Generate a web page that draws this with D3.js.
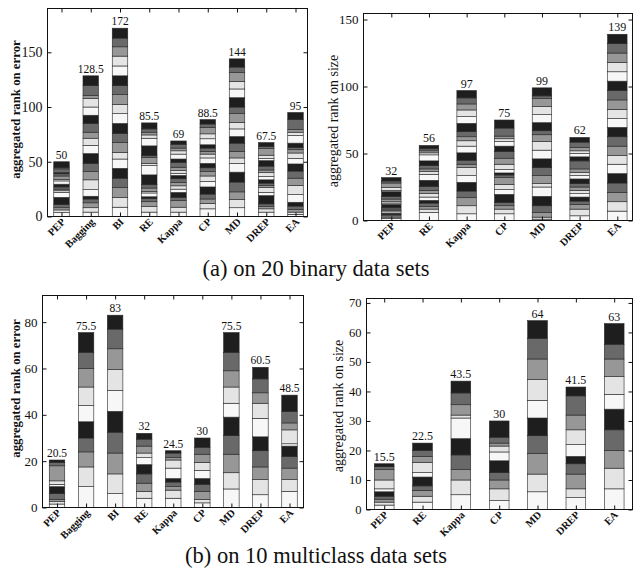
<!DOCTYPE html>
<html><head><meta charset="utf-8">
<script src="https://cdn.jsdelivr.net/npm/d3@7/dist/d3.min.js"></script>
<style>body{margin:0;background:#fff}svg{display:block}</style>
</head><body>
<svg id="chart" width="633" height="571"></svg>
<script>
// ---------- data ----------
const methodsError = ["PEP","Bagging","BI","RE","Kappa","CP","MD","DREP","EA"];
const methodsSize  = ["PEP","RE","Kappa","CP","MD","DREP","EA"];

// per-data-set ranks, stacked bottom->top (20 binary data sets)
const binaryErrorRanks = [
  [3.5,2.5,2,3,6.5, 4.5,1.5,1.5,2,2.5, 3,1.5,3,2,1.5, 1,1,1,1,5.5],          // PEP 50
  [4,4,4.5,3.5,2.5, 6,9,7.5,7.5,9, 7.5,6.5,5.5,8,7.5, 7.5,8,2.5,9,9],         // Bagging 128.5
  [8.5,9,9,8.5,9, 8.5,6,9,8.5,9, 9,8.5,9,8,9, 9,9,8.5,8,9],                   // BI 172
  [4,5,4.5,3,1.5, 3.5,1.5,3,3,9, 8.5,2,5.5,1.5,9, 7,3,2.5,3,5.5],             // RE 85.5
  [4,4.5,6,3,4.5, 3,3,3,3.5,3, 2,2.5,3,4.5,3, 4.5,3,2.5,3.5,3],               // Kappa 69
  [7,5,4,4.5,6.5, 5,5,4,3.5,4, 5,3.5,2.5,3,3, 5.5,4.5,6,3,4],                 // CP 88.5
  [8,7.5,7,9,9, 8,5,6,7.5,6, 7,6,8,6,8.5, 8,7,8,5,7.5],                       // MD 144
  [4,3,2,2.5,7.5, 3,4.5,2,2,3, 3,3.5,2.5,3.5,5, 2,3,6,2,3.5],                 // DREP 67.5
  [2,2,2.5,3,3.5, 7,8.5,6.5,6.5,6.5, 5,5,3,2,4, 7,3,2.5,9,6.5]                // EA 95
];
const binarySizeRanks = [
  [1.5,1,1,1,1, 1,1,1,1,2.5, 1,1,2,2,3.5, 1,2,3.5,1.5,2.5],                   // PEP 32
  [6,2.5,2,2.5,2, 2.5,2.5,2.5,3,4.5, 4.5,2,2,2.5,3.5, 4.5,1.5,1.5,1.5,2.5],    // RE 56
  [5,6,6,5,6.5, 5,6,2.5,3,5.5, 5,4,3,4,6, 5,5,4.5,4.5,5.5],                   // Kappa 97
  [5,3.5,2.5,2.5,6, 3.5,4,5,2,1.5, 2.5,4,4.5,5,4, 3.5,2,2,6,6],               // CP 75
  [1,1.5,3.5,5,7, 7,2.5,6,6,6.5, 6.5,6.5,5,3,6, 6,6,6,2,6],                   // MD 99
  [3.5,5,3.5,2.5,3, 2.5,2.5,2.5,2.5,3.5, 2.5,2.5,2.5,6,3, 2.5,2,2.5,4,3.5],   // DREP 62
  [7,7,7,7,7, 7,6.5,7,7,7, 6.5,7,7,7,7, 7,7,7,7,7]                            // EA 139
];
// 10 multiclass data sets
const multiErrorRanks = [
  [1.5,1,1,2.5,3, 1,1.5,6.5,1.5,1],       // PEP 20.5
  [9,8.5,6.5,6,7, 7,8,8,7,8.5],           // Bagging 75.5
  [6,8.5,9,9,9, 9,9,9,8.5,6],             // BI 83
  [4,3,3.5,4,4, 3,2,3,3,2.5],             // RE 32
  [4,3.5,1.5,2,1.5, 4.5,3.5,1,2,1],       // Kappa 24.5
  [2,1.5,3.5,3,2.5, 3.5,3.5,3.5,3,4],     // CP 30
  [8,7,8,8,8, 6,7,7,8,8.5],               // MD 75.5
  [5.5,6.5,5.5,7,6, 8,6.5,4.5,6,5],       // DREP 60.5
  [7,5,5,5,4.5, 1,6,3,5,7]                // EA 48.5
];
const multiSizeRanks = [
  [1.5,1,1,1,1.5, 1,3,3.5,1,1],           // PEP 15.5
  [2.5,2,2,1.5,3, 1.5,3.5,2,2,2.5],       // RE 22.5
  [5,5,3.5,5,5.5, 7,1,3.5,4,4],           // Kappa 43.5
  [3,4,3,2.5,4, 3,2,1,2,5.5],             // CP 30
  [6,6,7,6,6, 6,7,7,7,6],                 // MD 64
  [4,3,5,3.5,2.5, 4,5,5,6.5,3],           // DREP 41.5
  [7,7,6,7,7, 5,6,6,5,7]                  // EA 63
];
const ticksBinaryError = [0,50,100,150];
const ticksBinarySize  = [0,50,100,150];
const ticksMultiError  = [0,20,40,60,80];
const ticksMultiSize   = [0,10,20,30,40,50,60,70];
const grayCycle = ["#f7f7f7","#e4e4e4","#979797","#696969","#1e1e1e"];
const captions = ["(a) on 20 binary data sets","(b) on 10 multiclass data sets"];

// ---------- drawing ----------
const svg = d3.select("#chart");
const FONT = "'Liberation Serif','Times New Roman',serif";

function panel(o){
  const [fx0, fy0, fx1, fy1] = o.frame;
  const n = o.cats.length;
  const x = d3.scaleLinear().domain([1, n]).range(o.cx);
  const y = d3.scaleLinear().domain([0, o.ymax]).range([fy1, fy0]);
  const g = svg.append("g");

  // bars
  o.data.forEach((segs, i) => {
    let cum = 0;
    const bg = g.append("g");
    segs.forEach((v, j) => {
      bg.append("rect")
        .attr("x", x(i + 1) - o.barW / 2)
        .attr("width", o.barW)
        .attr("y", y(cum + v))
        .attr("height", y(cum) - y(cum + v))
        .attr("fill", grayCycle[j % 5])
        .attr("stroke", "#262626")
        .attr("stroke-width", 0.6);
      cum += v;
    });
    g.append("text")
      .attr("x", x(i + 1)).attr("y", y(cum) - 3)
      .attr("text-anchor", "middle")
      .attr("font-family", FONT).attr("font-size", o.valFont)
      .attr("fill", "#111")
      .text(String(d3.sum(segs)));
  });

  // axes (inward ticks)
  const left = g.append("g").attr("transform", `translate(${fx0},0)`)
    .call(d3.axisLeft(y).tickValues(o.ticks).tickSize(-4).tickPadding(5));
  left.selectAll("text").attr("font-family", FONT).attr("font-size", o.tickFont).attr("fill", "#111");
  g.append("g").attr("transform", `translate(${fx1},0)`)
    .call(d3.axisRight(y).tickValues(o.ticks).tickSize(-4).tickFormat(""));
  const bottom = g.append("g").attr("transform", `translate(0,${fy1})`)
    .call(d3.axisBottom(x).tickValues(d3.range(1, n + 1)).tickSize(-4).tickFormat(d => o.cats[d - 1]));
  bottom.selectAll("text")
    .attr("x", 0).attr("y", 0).attr("dy", null)
    .attr("transform", "translate(4,6) rotate(-45)")
    .attr("text-anchor", "end")
    .attr("font-family", FONT).attr("font-size", 10.5).attr("font-weight", "bold").attr("fill", "#111");
  g.append("g").attr("transform", `translate(0,${fy0})`)
    .call(d3.axisTop(x).tickValues(d3.range(1, n + 1)).tickSize(-4).tickFormat(""));
  g.selectAll(".domain").remove();
  g.selectAll(".tick line").attr("stroke", "#111");

  // frame
  g.append("rect").attr("x", fx0).attr("y", fy0)
    .attr("width", fx1 - fx0).attr("height", fy1 - fy0)
    .attr("fill", "none").attr("stroke", "#111").attr("stroke-width", 1);

  // y label
  g.append("text")
    .attr("transform", `translate(${o.labelX},${(fy0 + fy1) / 2 + (o.labelDy || 0)}) rotate(-90)`)
    .attr("text-anchor", "middle")
    .attr("font-family", FONT).attr("font-size", o.labelFont)
    .attr("font-weight", o.bold ? "bold" : "normal").attr("fill", "#111")
    .text(o.ylabel);
}

panel({cats: methodsError, data: binaryErrorRanks, frame: [47.5, 8.5, 307.5, 216.5],
  cx: [61.5, 295.5], ymax: 190, ticks: ticksBinaryError, barW: 15.5,
  ylabel: "aggregated rank on error", bold: true, labelX: 20, labelDy: -3, labelFont: 12.8, tickFont: 14, valFont: 11.5});
panel({cats: methodsSize, data: binarySizeRanks, frame: [363.5, 13.5, 632.5, 220.5],
  cx: [391.3, 617.3], ymax: 154.5, ticks: ticksBinarySize, barW: 19.5,
  ylabel: "aggregated rank on size", bold: false, labelX: 338, labelDy: 4, labelFont: 14, tickFont: 13, valFont: 12});
panel({cats: methodsError, data: multiErrorRanks, frame: [42.5, 295.5, 303.5, 507.5],
  cx: [57, 289.5], ymax: 91.5, ticks: ticksMultiError, barW: 15.5,
  ylabel: "aggregated rank on error", bold: true, labelX: 20, labelDy: -13, labelFont: 12.8, tickFont: 13, valFont: 11.5});
panel({cats: methodsSize, data: multiSizeRanks, frame: [366.5, 298.5, 632.5, 509.5],
  cx: [384.2, 614.2], ymax: 71.5, ticks: ticksMultiSize, barW: 19.7,
  ylabel: "aggregated rank on size", bold: false, labelX: 343, labelDy: 2, labelFont: 14, tickFont: 12.5, valFont: 12});

// captions
svg.append("text").attr("x", 316).attr("y", 276).attr("text-anchor", "middle")
  .attr("font-family", FONT).attr("font-size", 22.5).attr("fill", "#111").text(captions[0]);
svg.append("text").attr("x", 316).attr("y", 563).attr("text-anchor", "middle")
  .attr("font-family", FONT).attr("font-size", 22.5).attr("fill", "#111").text(captions[1]);
</script>
</body></html>
